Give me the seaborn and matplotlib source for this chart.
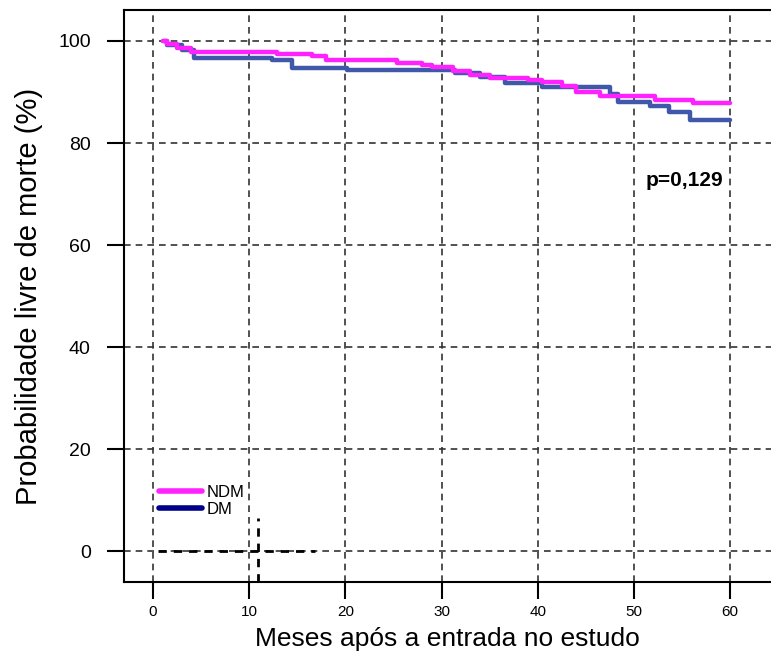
import numpy as np
import pandas as pd
import matplotlib
matplotlib.use("Agg")
import matplotlib.pyplot as plt
from matplotlib.lines import Line2D
import seaborn as sns

# ---- data ----
ndm_months = [1, 1.5, 2.5, 4, 12.9, 16.5, 18, 25.4, 28, 29, 31.2, 33, 35, 39, 40.5, 42.5, 44, 46.5, 52.2, 56.1, 60]
ndm_surv = [100, 99.4, 98.6, 97.9, 97.5, 97.0, 96.2, 95.7, 95.2, 94.9, 94.1, 93.3, 92.8, 92.3, 91.9, 91.2, 90.0, 89.3, 88.5, 87.9, 87.9]
dm_months = [1, 1.5, 3, 4.3, 12.4, 14.5, 20.2, 31.4, 34, 36.6, 40.4, 47.5, 48.3, 51.7, 53.7, 55.8, 60]
dm_surv = [100, 99.2, 98.3, 96.7, 96.2, 94.75, 94.3, 93.8, 93.0, 91.7, 90.9, 89.6, 88.1, 87.2, 86.1, 84.5, 84.5]
groups = ["NDM", "DM"]
x_ticks = [0, 10, 20, 30, 40, 50, 60]
y_ticks = [0, 20, 40, 60, 80, 100]
p_text = "p=0,129"
x_label = "Meses após a entrada no estudo"
y_label = "Probabilidade livre de morte (%)"

curve_colors = {"NDM": "#ff22ff", "DM": "#3f58aa"}
legend_colors = {"NDM": "#ff22ff", "DM": "#00008b"}

df = pd.concat([
    pd.DataFrame({"mes": ndm_months, "surv": ndm_surv, "grupo": "NDM"}),
    pd.DataFrame({"mes": dm_months, "surv": dm_surv, "grupo": "DM"}),
], ignore_index=True)

sns.set_style("white")
plt.rcParams["font.family"] = ["Liberation Sans", "DejaVu Sans"]
plt.rcParams["text.color"] = "black"
plt.rcParams["axes.labelcolor"] = "black"
plt.rcParams["xtick.color"] = "black"
plt.rcParams["ytick.color"] = "black"

fig = plt.figure(figsize=(7.71, 6.55), dpi=100)
ax = fig.add_axes([0.161, 0.111, 0.839, 0.874])

ax.set_axisbelow(True)
ax.grid(True, color="#333333", linestyle=(0, (4, 3)), linewidth=1.2)

# draw DM first so NDM sits on top
for g in ["DM", "NDM"]:
    sns.lineplot(data=df[df["grupo"] == g], x="mes", y="surv", color=curve_colors[g],
                 drawstyle="steps-post", linewidth=3.2, estimator=None, ax=ax, legend=False)

# black dashed residue marks near the origin
ax.plot([0.5, 16.8], [0, 0], color="black", linestyle=(0, (3, 2.5)), linewidth=2.0, zorder=3)
ax.plot([10.9, 10.9], [-6, 6.5], color="black", linestyle=(0, (3, 2.5)), linewidth=2.0, zorder=3)

ax.set_xlim(-3.0, 64.26)
ax.set_ylim(-6.08, 106.1)
ax.set_xticks(x_ticks)
ax.set_yticks(y_ticks)
ax.set_xticklabels([str(v) for v in x_ticks], fontsize=11)
ax.set_yticklabels([str(v) for v in y_ticks], fontsize=14)
ax.tick_params(axis="x", direction="out", length=12, width=1.5, pad=4, bottom=True)
ax.tick_params(axis="y", direction="out", length=12, width=1.5, pad=12, left=True)

ax.set_xlabel(x_label, fontsize=19, labelpad=6)
ax.set_ylabel(y_label, fontsize=21, labelpad=11)

for side in ["left", "bottom", "top"]:
    ax.spines[side].set_visible(True)
    ax.spines[side].set_color("black")
    ax.spines[side].set_linewidth(1.5)
ax.spines["right"].set_visible(False)

ax.text(55.3, 72.7, p_text, fontsize=15, fontweight="bold", ha="center", va="center")

handles = [Line2D([0], [0], color=legend_colors[g], linewidth=4) for g in groups]
ax.legend(handles, groups, loc="lower left", bbox_to_anchor=(0.041, 0.10), frameon=False,
          fontsize=12, handlelength=2.6, handletextpad=0.25, labelspacing=0.1, borderpad=0)

fig.savefig("out.png", dpi=100)
